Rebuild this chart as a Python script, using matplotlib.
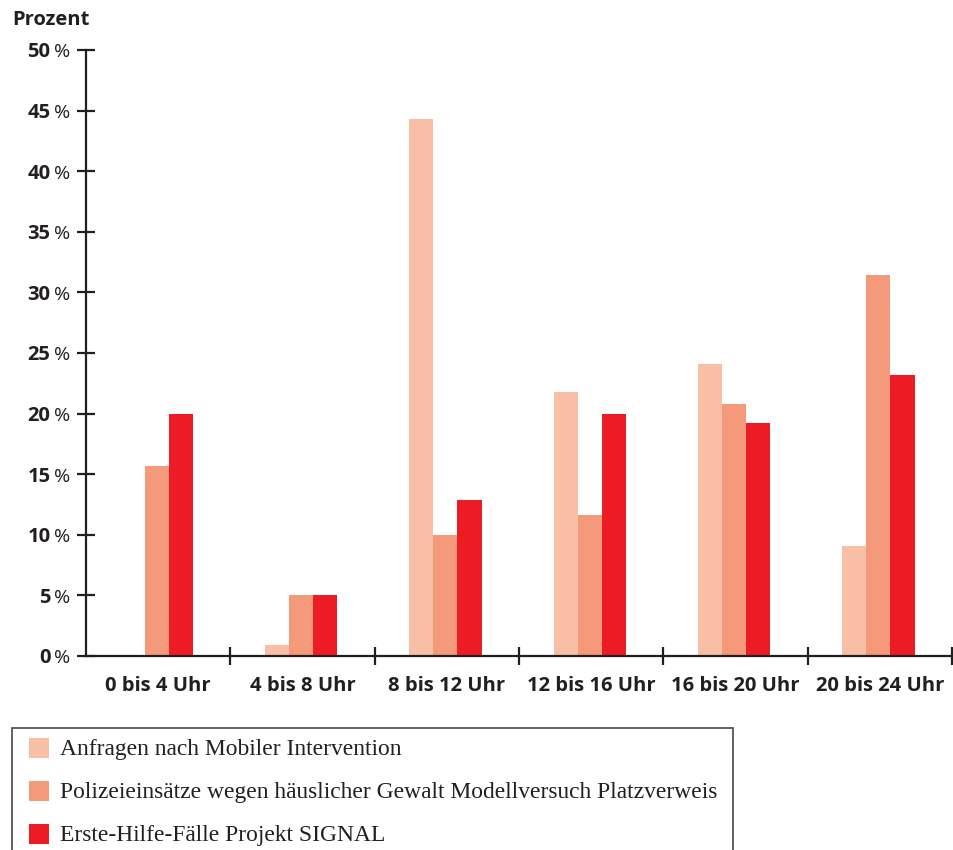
import matplotlib
matplotlib.use("Agg")
import matplotlib.pyplot as plt
from matplotlib.patches import Rectangle
import numpy as np

categories = ["0 bis 4 Uhr", "4 bis 8 Uhr", "8 bis 12 Uhr",
              "12 bis 16 Uhr", "16 bis 20 Uhr", "20 bis 24 Uhr"]
series_names = [
    "Anfragen nach Mobiler Intervention",
    "Polizeieinsätze wegen häuslicher Gewalt Modellversuch Platzverweis",
    "Erste-Hilfe-Fälle Projekt SIGNAL",
]
anfragen = [0.0, 0.9, 44.3, 21.8, 24.1, 9.1]
polizei = [15.7, 5.0, 10.0, 11.6, 20.8, 31.4]
signal = [20.0, 5.0, 12.9, 20.0, 19.2, 23.2]
y_ticks = [0, 5, 10, 15, 20, 25, 30, 35, 40, 45, 50]

colors = ["#F9BEA6", "#F4997A", "#ED1C24"]
ink = "#231F20"
sans = ["Open Sans", "DejaVu Sans"]
serif = ["Liberation Serif", "DejaVu Serif"]

W, H = 954, 850
fig = plt.figure(figsize=(W / 100, H / 100), dpi=100)
ax = fig.add_axes([86 / W, 1 - 656 / H, (952 - 86) / W, (656 - 50) / H])

x = np.arange(len(categories)) + 0.5
bw = 0.167
for i, vals in enumerate([anfragen, polizei, signal]):
    ax.bar(x + (i - 1) * bw - 0.01, vals, width=bw, color=colors[i], linewidth=0, zorder=2)

ax.set_xlim(0, len(categories))
ax.set_ylim(0, 50)
for s in ["top", "right"]:
    ax.spines[s].set_visible(False)
for s in ["left", "bottom"]:
    ax.spines[s].set_color(ink)
    ax.spines[s].set_linewidth(1.6)
    ax.spines[s].set_zorder(3)

ax.set_yticks(y_ticks)
ax.set_yticklabels([])
ax.tick_params(axis="y", direction="inout", length=13, width=1.6, color=ink)
ax.set_xticks(np.arange(1, len(categories) + 1))
ax.set_xticklabels([])
ax.tick_params(axis="x", direction="inout", length=13, width=1.6, color=ink)
for t in ax.xaxis.get_major_ticks():
    t.tick1line.set_clip_on(False)

# y tick labels: bold number, lighter percent sign
ytrans = ax.get_yaxis_transform()
for v in y_ticks:
    ax.text(-0.041, v - 0.2, f"{v}", transform=ytrans, ha="right", va="center",
            fontsize=14.5, fontweight="bold", family=sans, color=ink)
    ax.text(-0.0185, v - 0.2, "%", transform=ytrans, ha="right", va="center",
            fontsize=14, family=sans, color=ink)

# category labels
xtrans = ax.get_xaxis_transform()
for xi, c in zip(x, categories):
    ax.text(xi, -0.05, c, transform=xtrans, ha="center", va="center",
            fontsize=14.5, fontweight="bold", family=sans, color=ink)

fig.text(12 / W, 1 - 20 / H, "Prozent", ha="left", va="center",
         fontsize=14.5, fontweight="bold", family=sans, color=ink)

# legend box
fig.patches.append(Rectangle((12 / W, -0.02), (733 - 12) / W, (H - 728) / H + 0.02,
                             transform=fig.transFigure, fill=False,
                             edgecolor="#555555", linewidth=1.3))
rows_y = [748, 791, 834]
for name, col, ry in zip(series_names, colors, rows_y):
    fig.patches.append(Rectangle((29 / W, 1 - (ry + 10) / H), 20 / W, 20 / H,
                                 transform=fig.transFigure, facecolor=col,
                                 edgecolor="none"))
    fig.text(60 / W, 1 - (ry + 1.5) / H, name, ha="left", va="center",
             fontsize=16.9, family=serif, color=ink)

fig.savefig("out.png", dpi=100, facecolor="white")
